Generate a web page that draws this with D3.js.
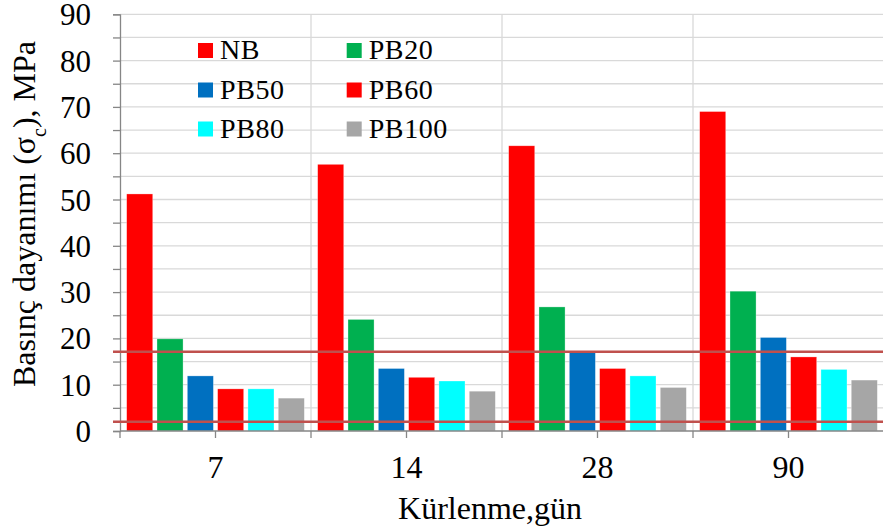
<!DOCTYPE html>
<html>
<head>
<meta charset="utf-8">
<script src="https://cdn.jsdelivr.net/npm/d3@7/dist/d3.min.js"></script>
<style>
  html, body { margin: 0; padding: 0; background: #fff; }
  svg text { font-family: "Liberation Serif", "Times New Roman", serif; fill: #000; }
</style>
</head>
<body>
<svg id="chart" width="883" height="530"></svg>
<script>
// Curing ages (days) on the x axis
const categories = ["7", "14", "28", "90"];
// Mix series and their colours
const seriesNames = ["NB", "PB20", "PB50", "PB60", "PB80", "PB100"];
const seriesColors = ["#ff0000", "#00b050", "#0070c0", "#ff0000", "#00ffff", "#a6a6a6"];
// Compressive strength values (MPa), one array per series, ordered by age
const NB    = [51.2, 57.6, 61.6, 69.0];
const PB20  = [19.9, 24.1, 26.8, 30.2];
const PB50  = [11.9, 13.5, 17.2, 20.2];
const PB60  = [9.1, 11.6, 13.5, 16.0];
const PB80  = [9.1, 10.8, 11.9, 13.3];
const PB100 = [7.1, 8.6, 9.4, 11.0];
const seriesValues = [NB, PB20, PB50, PB60, PB80, PB100];
// Reference levels drawn as horizontal lines
const refLines = [17.1, 2.0];
// Y axis ticks
const yTicks = [0, 10, 20, 30, 40, 50, 60, 70, 80, 90];

const FONT = "'Liberation Serif', 'Times New Roman', serif";
const svg = d3.select("#chart");
const plotLeft = 120, plotRight = 884, plotTop = 14.3, plotBottom = 431;

const x = d3.scaleBand().domain(categories).range([plotLeft, plotRight]).padding(0);
const xInner = d3.scaleBand().domain(seriesNames).range([0, x.bandwidth()])
  .paddingInner(0.14).paddingOuter(0.22);
const y = d3.scaleLinear().domain([0, 90]).range([plotBottom, plotTop]);

// Horizontal gridlines every 5 MPa
const minor = d3.range(5, 91, 5);
svg.append("g").selectAll("line").data(minor).join("line")
  .attr("x1", plotLeft).attr("x2", 883)
  .attr("y1", d => y(d)).attr("y2", d => y(d))
  .attr("stroke", "#d9d9d9").attr("stroke-width", 1.3);

// Vertical gridlines between age groups
svg.append("g").selectAll("line").data(categories.slice(1)).join("line")
  .attr("x1", d => x(d)).attr("x2", d => x(d))
  .attr("y1", plotTop).attr("y2", plotBottom)
  .attr("stroke", "#d9d9d9").attr("stroke-width", 1.3);

// Bars
const groups = svg.append("g").selectAll("g").data(categories).join("g")
  .attr("transform", d => `translate(${x(d)},0)`);
groups.selectAll("rect")
  .data((c, ci) => seriesNames.map((s, si) => ({ s, si, v: seriesValues[si][ci] })))
  .join("rect")
  .attr("x", d => xInner(d.s))
  .attr("width", xInner.bandwidth())
  .attr("y", d => y(d.v))
  .attr("height", d => plotBottom - y(d.v))
  .attr("fill", d => seriesColors[d.si])
  .attr("stroke", "rgba(255,255,255,0.5)").attr("stroke-width", 0.6);

// Y axis
const yAxis = d3.axisLeft(y).tickValues(d3.range(0, 91, 5)).tickSize(7)
  .tickFormat(d => (yTicks.includes(d) ? d : ""));
const gy = svg.append("g").attr("transform", `translate(${plotLeft},0)`).call(yAxis)
  .attr("font-family", FONT);
gy.select(".domain").attr("stroke", "#868686").attr("stroke-width", 1.3);
gy.selectAll(".tick line").attr("stroke", "#868686").attr("stroke-width", 1.3);
gy.selectAll(".tick text").attr("x", -29).attr("dy", "0.34em")
  .style("font-size", "31px").style("font-family", FONT);

// X axis with ticks at group edges and centres
const xAxisLine = svg.append("g");
xAxisLine.append("line").attr("x1", plotLeft).attr("x2", 883)
  .attr("y1", plotBottom).attr("y2", plotBottom)
  .attr("stroke", "#868686").attr("stroke-width", 1.3);
const xTickPos = [];
categories.forEach(c => { xTickPos.push(x(c)); xTickPos.push(x(c) + x.bandwidth() / 2); });
xAxisLine.selectAll("line.t").data(xTickPos).join("line").attr("class", "t")
  .attr("x1", d => d).attr("x2", d => d)
  .attr("y1", plotBottom).attr("y2", plotBottom + 7)
  .attr("stroke", "#868686").attr("stroke-width", 1.3);
svg.append("g").selectAll("text").data(categories).join("text")
  .attr("x", d => x(d) + x.bandwidth() / 2)
  .attr("y", 478)
  .attr("text-anchor", "middle")
  .style("font-size", "32px")
  .text(d => d);

// Reference lines
svg.append("g").selectAll("line").data(refLines).join("line")
  .attr("x1", 113).attr("x2", 883)
  .attr("y1", d => y(d)).attr("y2", d => y(d))
  .attr("stroke", "#c0504d").attr("stroke-width", 2.5);

// Axis titles
svg.append("text")
  .attr("x", 490).attr("y", 519)
  .attr("text-anchor", "middle")
  .style("font-size", "32px")
  .text("Kürlenme,gün");

const yt = svg.append("text")
  .attr("transform", "translate(35,214) rotate(-90)")
  .attr("text-anchor", "middle")
  .style("font-size", "32px");
yt.append("tspan").text("Basınç dayanımı (σ");
yt.append("tspan").attr("baseline-shift", "sub").style("font-size", "20px").text("c");
yt.append("tspan").text("), MPa");

// Legend (two columns, three rows)
const legendCols = [198, 346.7];
const legendRows = [50.5, 90, 129];
const legend = svg.append("g").selectAll("g").data(seriesNames).join("g")
  .attr("transform", (d, i) => `translate(${legendCols[i % 2]},${legendRows[Math.floor(i / 2)]})`);
legend.append("rect").attr("x", 0).attr("y", -7.5).attr("width", 15).attr("height", 15)
  .attr("fill", (d, i) => seriesColors[i]);
legend.append("text").attr("x", 22).attr("y", 8.5)
  .style("font-size", "28px").style("letter-spacing", "0.6px")
  .text(d => d);
</script>
</body>
</html>
